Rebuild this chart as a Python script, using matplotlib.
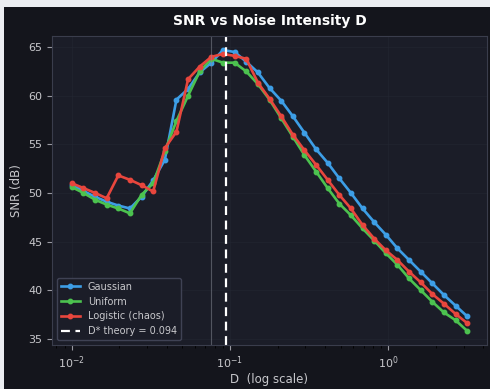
import numpy as np
import matplotlib
matplotlib.use("Agg")
import matplotlib.pyplot as plt
from matplotlib.patches import Rectangle

# Noise intensities (log-spaced, 35 points from 1e-2 to ~3.16)
D = np.logspace(-2, 0.5, 35)

snr_gaussian = [50.8, 50.2, 49.6, 49.1, 48.7, 48.4, 49.6, 51.3, 53.4, 59.6,
                60.7, 62.4, 63.4, 64.7, 64.5, 63.5, 62.4, 60.8, 59.5, 57.9,
                56.2, 54.5, 53.1, 51.5, 50.0, 48.4, 47.0, 45.7, 44.3, 43.1,
                41.9, 40.7, 39.5, 38.4, 37.3]
snr_uniform = [50.6, 50.0, 49.3, 48.8, 48.4, 47.9, 49.8, 51.0, 54.3, 57.4,
               60.0, 62.5, 63.8, 63.4, 63.4, 62.5, 61.2, 59.6, 57.7, 55.8,
               53.9, 52.2, 50.5, 48.9, 47.7, 46.35, 45.1, 43.8, 42.6, 41.2,
               40.0, 38.8, 37.7, 36.9, 35.8]
snr_logistic = [51.0, 50.5, 50.0, 49.45, 51.8, 51.35, 50.8, 50.15, 54.6, 56.3,
                61.7, 63.0, 64.0, 64.3, 64.1, 63.8, 61.35, 59.7, 57.9, 56.0,
                54.4, 52.9, 51.35, 49.8, 48.4, 46.7, 45.3, 44.1, 43.1, 41.9,
                40.8, 39.6, 38.6, 37.55, 36.6]
D_theory = 0.094
D_empirical = D[12]

series_labels = ["Gaussian", "Uniform", "Logistic (chaos)"]
series_colors = ["#3d9ee6", "#4cc24f", "#e8463d"]

fig_bg = "#14151c"
ax_bg = "#1b1d28"
txt = "#c8c8cc"

fig = plt.figure(figsize=(4.9, 3.89), dpi=100, facecolor="#eceef2")
fig.patches.append(Rectangle((4 / 490, 0), 1, (389 - 7) / 389,
                             transform=fig.transFigure, facecolor=fig_bg,
                             edgecolor="none", zorder=-10))
ax = fig.add_axes([52 / 490, 44 / 389, 435 / 490, 309 / 389])
ax.set_facecolor(ax_bg)

for vals, lab, col in zip([snr_gaussian, snr_uniform, snr_logistic],
                          series_labels, series_colors):
    ax.plot(D, vals, "-o", color=col, lw=1.9, ms=3.2, label=lab)

ax.axvline(D_empirical, color="#8a8d99", lw=0.8, alpha=0.5)
ax.axvline(D_theory, color="white", lw=1.6, ls=(0, (4, 2.5)),
           label=f"D* theory = {D_theory}")

ax.set_xscale("log")
ax.set_title("SNR vs Noise Intensity D", color="white", fontsize=10,
             fontweight="bold", pad=8)
ax.set_xlabel("D  (log scale)", color=txt, fontsize=8.5, labelpad=1)
ax.set_ylabel("SNR (dB)", color=txt, fontsize=8.5)
ax.tick_params(colors="#9a9aa2", labelcolor=txt, labelsize=8)
ax.set_yticks([35, 40, 45, 50, 55, 60, 65])
for s in ax.spines.values():
    s.set_color("#3a3d4c")
ax.grid(True, color="#262936", lw=0.6, alpha=0.5)

leg = ax.legend(loc="lower left", fontsize=7, facecolor=ax_bg,
                edgecolor="#44475a", framealpha=0.9)
for t in leg.get_texts():
    t.set_color(txt)

fig.savefig("out.png", dpi=100, facecolor=fig.get_facecolor())
